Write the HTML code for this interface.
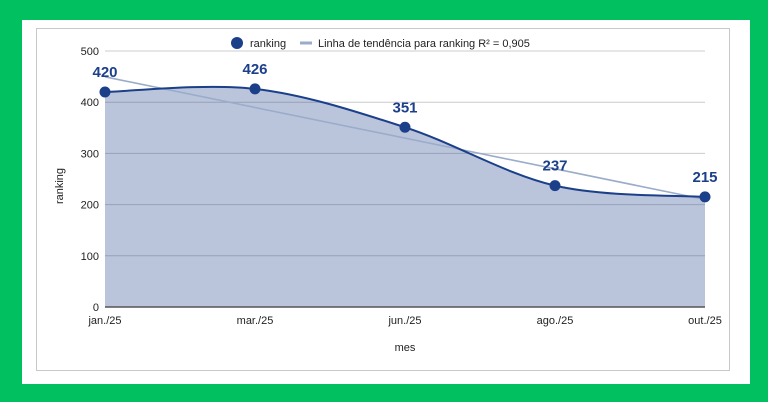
<!DOCTYPE html>
<html><head><meta charset="utf-8"><style>
body{margin:0;width:768px;height:402px;background:#00c060;overflow:hidden;font-family:"Liberation Sans",Arial,sans-serif}
#wrap{position:absolute;left:22px;top:20px;width:728px;height:364px;background:#fff}
#card{position:absolute;left:36px;top:28px;width:692px;height:341px;border:1px solid #c8c8c8;background:#fff}
svg{position:absolute;left:0;top:0}
</style></head><body>
<div id="wrap"></div>
<div id="card"></div>
<svg id="chart" width="768" height="402"></svg>
<script>
const categories=["jan./25","mar./25","jun./25","ago./25","out./25"];
const values=[420,426,351,237,215];
const yTicks=[0,100,200,300,400,500];
const NS="http://www.w3.org/2000/svg";
const svg=document.getElementById('chart');
const x0=105,x1=705,yb=307,yt=51;
const X=i=>x0+i*(x1-x0)/(categories.length-1);
const Y=v=>yb-(v/500)*(yb-yt);
function el(t,a,txt){const e=document.createElementNS(NS,t);for(const k in a)e.setAttribute(k,a[k]);if(txt!==undefined)e.textContent=txt;svg.appendChild(e);return e;}
yTicks.forEach(t=>{
  const g=el('line',{x1:x0,x2:x1,y1:Y(t),y2:Y(t),stroke:t===0?'#333':'#ccc','stroke-width':1});
  
  
  const l=el('text',{x:99,y:Y(t)+4,'text-anchor':'end','font-size':11,fill:'#222'},t);
  
  
});
const P=values.map((v,i)=>[X(i),Y(v)]);
let d='M'+P[0][0]+','+P[0][1];
for(let i=0;i<P.length-1;i++){
  const p0=P[Math.max(0,i-1)],p1=P[i],p2=P[i+1],p3=P[Math.min(P.length-1,i+2)];
  const t=0.5/3*2;
  const c1=[p1[0]+(p2[0]-p0[0])*t/2,p1[1]+(p2[1]-p0[1])*t/2];
  const c2=[p2[0]-(p3[0]-p1[0])*t/2,p2[1]-(p3[1]-p1[1])*t/2];
  d+=` C${c1[0]},${c1[1]} ${c2[0]},${c2[1]} ${p2[0]},${p2[1]}`;
}
const area=el('path',{d:d+` L${x1},${yb} L${x0},${yb} Z`,fill:'#1c3f8a','fill-opacity':0.3});


el('line',{x1:x0,x2:x1,y1:yb,y2:yb,stroke:'#555','stroke-width':1.5});
const n=values.length,mx=(n-1)/2,my=values.reduce((a,b)=>a+b)/n;
let sxy=0,sxx=0;values.forEach((v,i)=>{sxy+=(i-mx)*(v-my);sxx+=(i-mx)**2});
const sl=sxy/sxx,ic=my-sl*mx;
const tr=el('line',{x1:X(0),y1:Y(ic),x2:X(n-1),y2:Y(ic+sl*(n-1)),stroke:'#9aacc9','stroke-width':1.6});


const line=el('path',{d:d,fill:'none',stroke:'#1c3f8a','stroke-width':2});


P.forEach((p,i)=>{
  const c=el('circle',{cx:p[0],cy:p[1],r:5.5,fill:'#1c3f8a'});
  
  
  const t=el('text',{x:p[0],y:p[1]-15,'text-anchor':'middle','font-size':15,'font-weight':'bold',fill:'#1c3f8a'},values[i]);
  
  
  const xl=el('text',{x:p[0],y:324,'text-anchor':'middle','font-size':11,fill:'#222'},categories[i]);
  
  
});
const xt=el('text',{x:405,y:351,'text-anchor':'middle','font-size':11,fill:'#222'},'mes');


const yt2=el('text',{x:63,y:186,'text-anchor':'middle','font-size':11,fill:'#222',transform:'rotate(-90 63 186)'},'ranking');


const lc=el('circle',{cx:237,cy:43,r:6,fill:'#1c3f8a'});


const lt=el('text',{x:250,y:47,'font-size':11,fill:'#222'},'ranking');


const ll=el('line',{x1:300,x2:312,y1:43,y2:43,stroke:'#9aacc9','stroke-width':3});


const lt2=el('text',{x:318,y:47,'font-size':11,fill:'#222'},'Linha de tendência para ranking R² = 0,905');


</script>
</body></html>
